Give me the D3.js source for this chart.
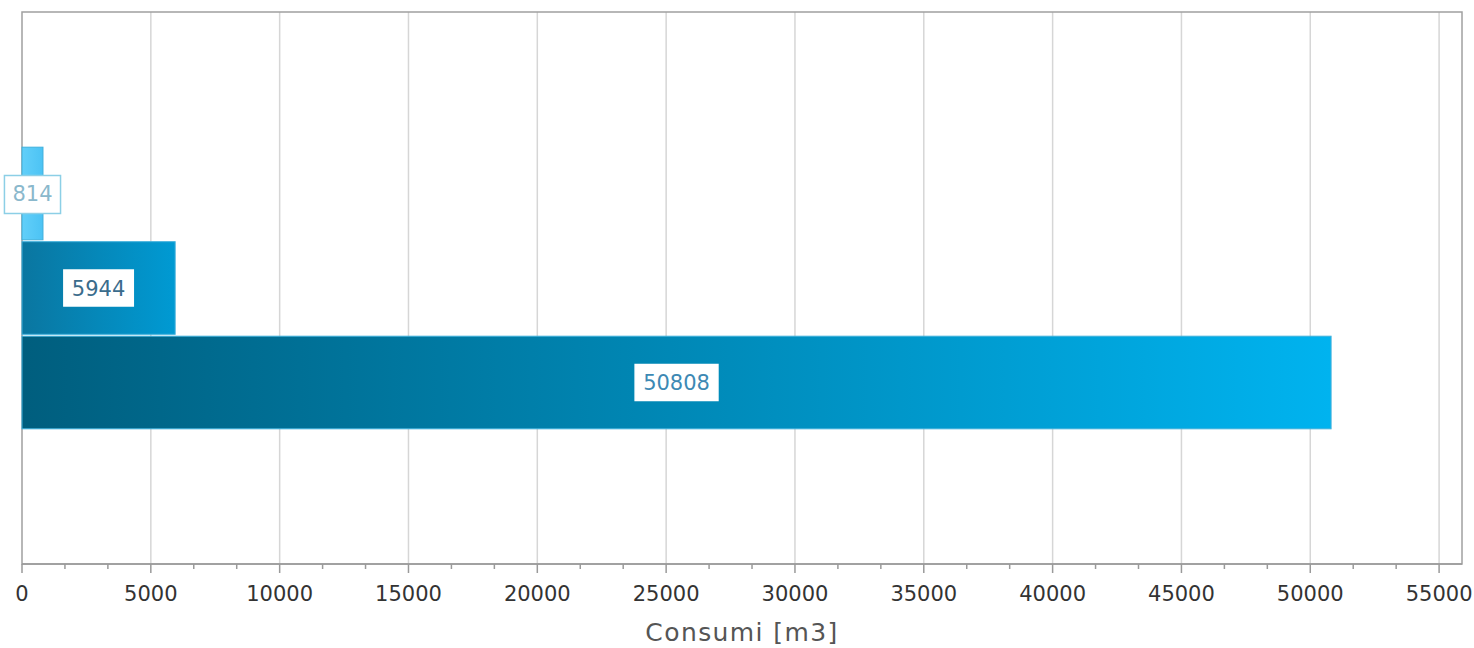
<!DOCTYPE html>
<html>
<head>
<meta charset="utf-8">
<script src="https://cdn.jsdelivr.net/npm/d3@7"></script>
<style>
  body { margin: 0; background: #fff; }
  svg text { font-family: "DejaVu Sans", Verdana, sans-serif; }
</style>
</head>
<body>
<div id="chart"></div>
<script>
// Data
const categories = [""];
const seriesNames = ["Serie 1", "Serie 2", "Serie 3"];
const values = [814, 5944, 50808];
const xTickValues = [0, 5000, 10000, 15000, 20000, 25000, 30000, 35000, 40000, 45000, 50000, 55000];
const axisTitle = "Consumi [m3]";

// colours per series: left and right end of the gradient
const gradStops = [["#62cff9", "#4cc3f4"], ["#0a76a0", "#009ad3"], ["#005e7e", "#00b3ef"]];
const labelText = ["#8ab8cc", "#3a6c8c", "#3d89b4"];
const labelBorder = ["#8ccfe6", "#ffffff", "#ffffff"];

const W = 1474, H = 648;
const margin = { top: 12, right: 12, bottom: 84, left: 22 };
const width = W - margin.left - margin.right;
const height = H - margin.top - margin.bottom;

const svg = d3.select("#chart").append("svg")
  .attr("width", W).attr("height", H);

const defs = svg.append("defs");
gradStops.forEach((s, i) => {
  const g = defs.append("linearGradient").attr("id", "grad" + i)
    .attr("x1", "0%").attr("x2", "100%").attr("y1", "0%").attr("y2", "0%");
  g.append("stop").attr("offset", "0%").attr("stop-color", s[0]);
  g.append("stop").attr("offset", "100%").attr("stop-color", s[1]);
});

const g = svg.append("g").attr("transform", `translate(${margin.left},${margin.top})`);

const x = d3.scaleLinear()
  .domain([0, d3.max(values) * 1.1])
  .range([0, width]);

const y0 = d3.scaleBand().domain(categories).range([0, height]).paddingOuter(0.48);
const y1 = d3.scaleBand().domain(seriesNames).range([0, y0.bandwidth()]).paddingInner(0.02);

// grid lines
g.selectAll(".grid")
  .data(xTickValues.slice(1))
  .enter().append("line")
  .attr("x1", d => x(d)).attr("x2", d => x(d))
  .attr("y1", 0).attr("y2", height)
  .attr("stroke", "#d6d6d6").attr("stroke-width", 1.5);

// frame
g.append("rect").attr("x", 0).attr("y", 0).attr("width", width).attr("height", height)
  .attr("fill", "none").attr("stroke", "#a0a0a0").attr("stroke-width", 1.5);

// bars
const rows = seriesNames.map((s, i) => ({ series: s, value: values[i], i: i }));
const grp = g.selectAll(".cat").data(categories).enter().append("g")
  .attr("transform", d => `translate(0,${y0(d)})`);

grp.selectAll(".bar").data(rows).enter().append("rect")
  .attr("class", "bar")
  .attr("x", x(0))
  .attr("y", d => y1(d.series))
  .attr("width", d => x(d.value) - x(0))
  .attr("height", y1.bandwidth())
  .attr("fill", d => `url(#grad${d.i})`)
  .attr("stroke", "#3fb0dc").attr("stroke-width", 1);

// value labels in white boxes
const lab = grp.selectAll(".lab").data(rows).enter().append("g")
  .attr("transform", d => `translate(${(x(0) + x(d.value)) / 2},${y1(d.series) + y1.bandwidth() / 2})`);
lab.append("text")
  .attr("text-anchor", "middle").attr("dy", "0.36em")
  .attr("font-size", 21)
  .attr("fill", d => labelText[d.i])
  .text(d => d.value);
lab.each(function (d) {
  const t = d3.select(this).select("text");
  const bb = t.node().getBBox();
  d3.select(this).insert("rect", "text")
    .attr("x", bb.x - 8).attr("y", -18)
    .attr("width", bb.width + 16).attr("height", d.i === 0 ? 38 : 36)
    .attr("fill", "#fff")
    .attr("stroke", labelBorder[d.i]).attr("stroke-width", 1.5);
});

// x axis with minor ticks
const minorTicks = d3.range(0, x.domain()[1], 5000 / 3).filter((d, i) => i % 3 !== 0);
const axis = g.append("g").attr("transform", `translate(0,${height})`);
axis.append("line").attr("x1", 0).attr("x2", width).attr("stroke", "#9a9a9a").attr("stroke-width", 1.5);
axis.selectAll(".minor").data(minorTicks).enter().append("line")
  .attr("x1", d => x(d)).attr("x2", d => x(d)).attr("y1", 0).attr("y2", 5)
  .attr("stroke", "#9a9a9a").attr("stroke-width", 1.5);
axis.selectAll(".major").data(xTickValues).enter().append("line")
  .attr("x1", d => x(d)).attr("x2", d => x(d)).attr("y1", 0).attr("y2", 9)
  .attr("stroke", "#9a9a9a").attr("stroke-width", 1.5);
axis.selectAll(".tl").data(xTickValues).enter().append("text")
  .attr("x", d => x(d)).attr("y", 37)
  .attr("text-anchor", "middle")
  .attr("font-size", 21).attr("fill", "#333")
  .text(d => d);

// axis title
svg.append("text")
  .attr("x", margin.left + width / 2).attr("y", 641)
  .attr("text-anchor", "middle")
  .attr("font-size", 25).attr("letter-spacing", 1.4)
  .attr("fill", "#555")
  .text(axisTitle);
</script>
</body>
</html>
